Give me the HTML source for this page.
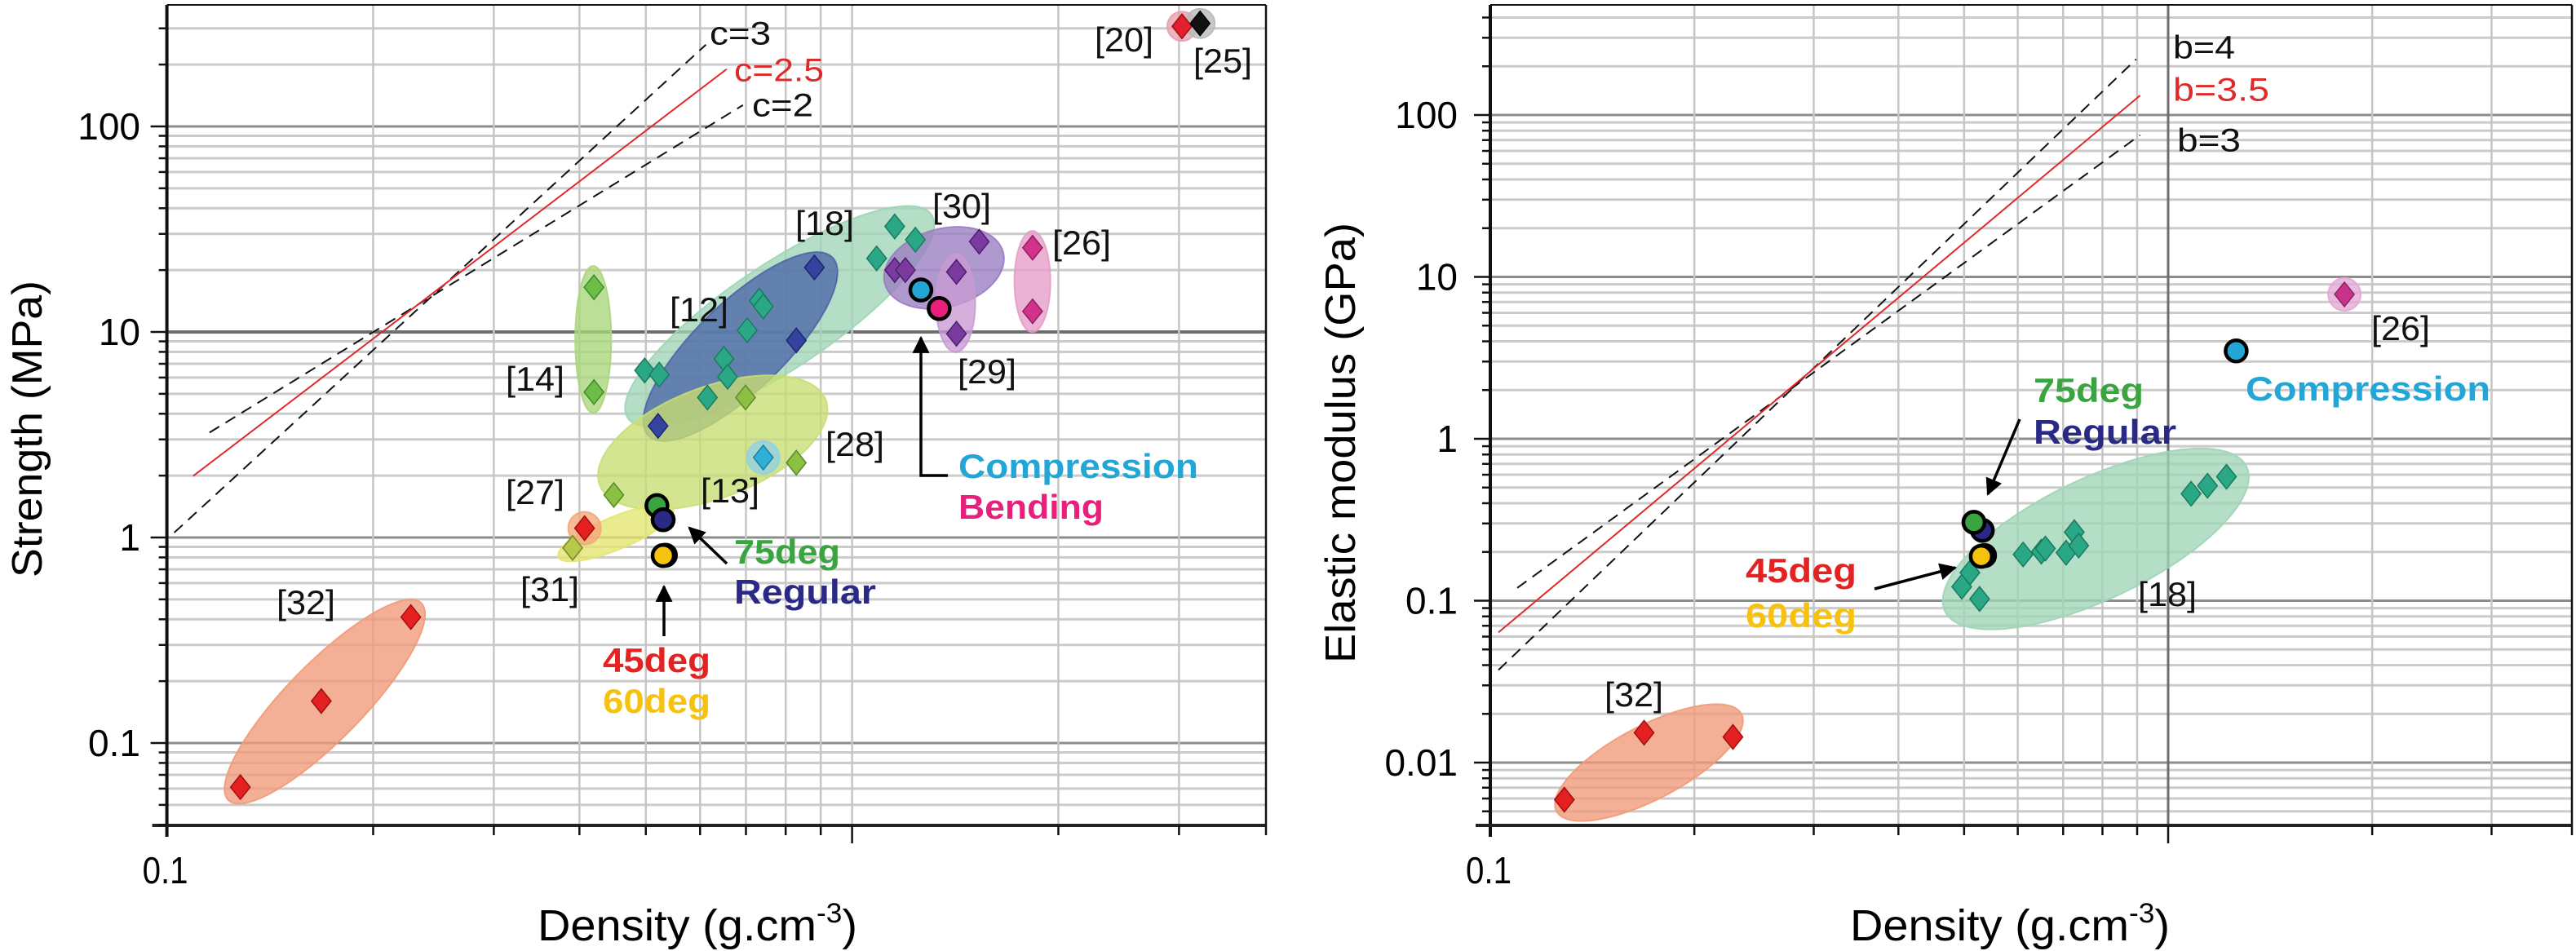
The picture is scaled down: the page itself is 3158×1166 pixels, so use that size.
<!DOCTYPE html>
<html><head><meta charset="utf-8"><style>
html,body{margin:0;padding:0;background:#fff;}
svg{display:block;font-family:"Liberation Sans",sans-serif;}
</style></head><body>
<svg id="chart" width="3158" height="1166" viewBox="0 0 3158 1166" xmlns="http://www.w3.org/2000/svg">
<defs><marker id="ah" viewBox="0 0 10 10" refX="9" refY="5" markerWidth="6" markerHeight="6" orient="auto"><path d="M0,0 L10,5 L0,10 Z" fill="#000"/></marker></defs>
</svg>
<script>
// ---- Left panel data (Strength vs density)
const l32X=[0.128,0.168,0.227], l32Y=[0.061,0.16,0.41];
const l14X=[0.42,0.42], l14Y=[16.5,5.1];
const l12X=[0.881,0.829,0.521], l12Y=[20.6,9.1,3.49];
const l18X=[0.498,0.523,0.615,0.650,0.658,0.703,0.732,0.742,1.086,1.154,1.237];
const l18Y=[6.5,6.2,4.8,7.4,6.05,10.2,14.2,13.3,22.8,32.6,28.1];
const l13X=[0.699,0.449,0.829], l13Y=[4.8,1.61,2.31];
const l28X=[0.742], l28Y=[2.45];
const l27X=[0.407], l27Y=[1.11];
const l31X=[0.391], l31Y=[0.89];
const l30X=[1.154,1.196,1.42,1.533], l30Y=[20.0,20.0,19.6,27.5];
const l29X=[1.42], l29Y=[9.8];
const l26X=[1.834,1.834], l26Y=[25.7,12.6];
const l20X=[3.03], l20Y=[307];
const l25X=[3.22], l25Y=[317];
const lWorkNames=['45deg','75deg','Regular','60deg','Compression','Bending'];
const lWorkX=[0.534,0.519,0.530,0.530,1.26,1.34];
const lWorkY=[0.82,1.43,1.22,0.817,16.0,13.0];
const c3X=[0.1025,0.612], c3Y=[1.056,250];
const c25X=[0.1092,0.656], c25Y=[1.99,190];
const c2X=[0.1154,0.693], c2Y=[3.24,127];
// ---- Right panel data (Elastic modulus vs density)
const r32X=[0.1286,0.1686,0.228], r32Y=[0.0059,0.0153,0.0144];
const r18X=[0.496,0.510,0.527,0.611,0.650,0.659,0.707,0.727,0.738,1.081,1.143,1.219];
const r18Y=[0.122,0.149,0.1025,0.193,0.201,0.210,0.198,0.265,0.219,0.458,0.513,0.583];
const r26X=[1.82], r26Y=[7.8];
const rWorkNames=['45deg','Regular','75deg','60deg','Compression'];
const rWorkX=[0.536,0.532,0.517,0.530,1.26];
const rWorkY=[0.19,0.272,0.305,0.188,3.49];
const b4X=[0.1028,0.897], b4Y=[0.0373,221];
const b35X=[0.1028,0.909], b35Y=[0.0637,132];
const b3X=[0.1096,0.909], b3Y=[0.12,75.2];
const xTickVals=[0.2,0.3,0.4,0.5,0.6,0.7,0.8,0.9,1,2,3];

const NS='http://www.w3.org/2000/svg';
const svg=document.getElementById('chart');
function mk(tag,attrs,name,parent){
  const e=document.createElementNS(NS,tag);
  for(const k in attrs) e.setAttribute(k,attrs[k]);
  
  
  (parent||svg).appendChild(e);
  return e;
}
const L={x0:204.6,x1:1552,y0:6,y1:1012,xk:840,ya:659,yk:252};
const R={x0:1827,x1:3153,y0:6,y1:1012,xk:831,ya:538,yk:198.5};
function X(P,v){return P.x0+P.xk*Math.log10(v/0.1);}
function Y(P,v){return P.ya-P.yk*Math.log10(v);}

function grid(P,isLeft){
  const g=mk('g',{},'grid');
  for(let d=-3;d<=2;d++){for(let m=1;m<=9;m++){
    const v=m*Math.pow(10,d), y=Y(P,v);
    if(y<P.y0+2||y>P.y1-2) continue;
    let col='#cbcbcb',w=3;
    if(m===1){col='#8c8c8c';w=3; if(isLeft&&d===1){col='#6e6e6e';w=4;}}
    mk('line',{x1:P.x0,x2:P.x1,y1:y,y2:y,stroke:col,'stroke-width':w},'h-gridline',g);
  }}
  xTickVals.forEach(v=>{
    const x=X(P,v);
    const major=(v===1&&!isLeft);
    mk('line',{x1:x,x2:x,y1:P.y0,y2:P.y1,stroke:major?'#6e6e6e':'#c6c6c6','stroke-width':major?3:2.5},'v-gridline',g);
  });
}
function axes(P,ticksY,labelRight){
  const g=mk('g',{},'axes');
  mk('line',{x1:P.x0,x2:P.x1,y1:P.y0,y2:P.y0,stroke:'#111','stroke-width':2},'frame-top',g);
  mk('line',{x1:P.x1,x2:P.x1,y1:P.y0,y2:P.y1,stroke:'#111','stroke-width':2.5},'frame-right',g);
  mk('line',{x1:P.x0,x2:P.x0,y1:P.y0,y2:P.y1+14,stroke:'#111','stroke-width':4},'y-axis',g);
  mk('line',{x1:P.x0-18,x2:P.x1,y1:P.y1,y2:P.y1,stroke:'#222','stroke-width':4},'x-axis',g);
  for(let d=-3;d<=2;d++){for(let m=1;m<=9;m++){
    const v=m*Math.pow(10,d), y=Y(P,v);
    if(y<P.y0||y>P.y1) continue;
    mk('line',{x1:P.x0-(m===1?20:10),x2:P.x0,y1:y,y2:y,stroke:'#111','stroke-width':2.5},'y-tick',g);
  }}
  xTickVals.forEach(v=>{const x=X(P,v);
    mk('line',{x1:x,x2:x,y1:P.y1,y2:P.y1+(v===1?22:12),stroke:'#111','stroke-width':2.5},'x-tick',g);});
  mk('line',{x1:P.x1,x2:P.x1,y1:P.y1,y2:P.y1+12,stroke:'#111','stroke-width':2.5},'x-tick',g);
  ticksY.forEach(v=>{
    const t=mk('text',{x:labelRight,y:Y(P,v)+16,'font-size':46,'text-anchor':'end',fill:'#000'},'y-tick-label',g);
    t.textContent=String(v);
  });
  const t=mk('text',{x:P.x0-2,y:1083,'font-size':46,'text-anchor':'middle',fill:'#000',textLength:56,lengthAdjust:'spacingAndGlyphs'},'x-tick-label',g);
  t.textContent='0.1';
}
function ellipse(P,cx,cy,rx,ry,rot,fill,name){
  const x=X(P,cx),y=Y(P,cy);
  mk('ellipse',{cx:x,cy:y,rx:rx,ry:ry,transform:`rotate(${rot} ${x} ${y})`,fill:fill,'fill-opacity':0.78,stroke:fill,'stroke-width':2,'stroke-opacity':0.9},name);
}
function diamonds(P,xs,ys,fill,stroke,name){
  xs.forEach((v,i)=>{const x=X(P,v),y=Y(P,ys[i]);
    mk('path',{d:`M${x},${y-15} L${x+12},${y} L${x},${y+15} L${x-12},${y} Z`,fill:fill,stroke:stroke,'stroke-width':1.5},name);});
}
function workPts(P,names,xs,ys,colors){
  names.forEach((n,i)=>{
    mk('circle',{cx:X(P,xs[i]),cy:Y(P,ys[i]),r:13,fill:colors[n],stroke:'#000','stroke-width':4.5},'point-'+n.toLowerCase());
  });
}
function line(P,xs,ys,color,dash,name){
  const a={x1:X(P,xs[0]),y1:Y(P,ys[0]),x2:X(P,xs[1]),y2:Y(P,ys[1]),stroke:color,'stroke-width':2};
  if(dash) a['stroke-dasharray']='14 9';
  mk('line',a,name);
}
function label(txt,x,y,size,color,weight,width,anchor,name){
  const t=mk('text',{x:x,y:y+size*0.36,'font-size':size,fill:color,'font-weight':weight,'text-anchor':anchor,textLength:width,lengthAdjust:'spacingAndGlyphs'},name);
  t.textContent=txt;
}
function arrow(pts,name){
  mk('polyline',{points:pts.map(p=>p.join(',')).join(' '),fill:'none',stroke:'#000','stroke-width':3.5,'marker-end':'url(#ah)'},name);
}
const WC={'45deg':'#e52222','75deg':'#3aa540','Regular':'#2a2a86','60deg':'#f7c20e','Compression':'#22a6d6','Bending':'#e8207c'};

// ===== LEFT PANEL
grid(L,true);
ellipse(L,0.170,0.159,169,47,-45.6,'#f19a78','ellipse-ref32');
ellipse(L,0.784,11.9,224,64,-33.8,'#9fd5b6','ellipse-ref18');
ellipse(L,0.687,8.49,157,54,-44,'#4b66a6','ellipse-ref12');
ellipse(L,0.626,2.9,148,68,-20.6,'#c8de72','ellipse-ref13');
ellipse(L,0.419,9.2,22,90,0,'#a9d67a','ellipse-ref14');
ellipse(L,0.452,1.05,76,20,-22.7,'#e4e46e','ellipse-ref31');
ellipse(L,0.407,1.11,20,20,0,'#f3a77a','circle-ref27');
ellipse(L,1.362,20.5,75,48,-15,'#9a7cc2','ellipse-ref30');
ellipse(L,1.416,13.8,24,60,0,'#c99ad4','ellipse-ref29');
ellipse(L,1.833,17.6,22,62,0,'#e59cc8','ellipse-ref26');
ellipse(L,3.03,307,18,18,0,'#e8a0b0','circle-ref20');
ellipse(L,3.22,317,18,18,0,'#b8b8b8','circle-ref25');
ellipse(L,0.742,2.45,20,20,0,'#8fd0e6','circle-ref28-cyan');
line(L,c3X,c3Y,'#111',true,'line-c3');
line(L,c2X,c2Y,'#111',true,'line-c2');
line(L,c25X,c25Y,'#e02a2a',false,'line-c2-5');
diamonds(L,l32X,l32Y,'#e42020','#a01010','point-ref32');
diamonds(L,l14X,l14Y,'#6cbd45','#3f8a2a','point-ref14');
diamonds(L,l18X,l18Y,'#2aa886','#1a7a5e','point-ref18');
diamonds(L,l12X,l12Y,'#33439e','#1c2670','point-ref12');
diamonds(L,l13X,l13Y,'#8cc043','#5a8a2a','point-ref13');
diamonds(L,l28X,l28Y,'#2fb0d6','#1a7ea0','point-ref28');
diamonds(L,l27X,l27Y,'#e42020','#a01010','point-ref27');
diamonds(L,l31X,l31Y,'#b8c84a','#7a8a2a','point-ref31');
diamonds(L,l30X,l30Y,'#7a3a9e','#4e1f70','point-ref30');
diamonds(L,l29X,l29Y,'#7a3a9e','#4e1f70','point-ref29');
diamonds(L,l26X,l26Y,'#d2328c','#90205e','point-ref26');
diamonds(L,l20X,l20Y,'#e42030','#a01010','point-ref20');
diamonds(L,l25X,l25Y,'#111','#000','point-ref25');
workPts(L,lWorkNames,lWorkX,lWorkY,WC);
arrow([[1162,583],[1129,583],[1129,414]],'arrow-compression');
arrow([[891,691],[845,647]],'arrow-75deg');
arrow([[814,780],[814,719]],'arrow-45deg');
axes(L,[100,10,1,0.1],172);
[['[20]',1378,48],['[25]',1499,74],['[18]',1011,273],['[30]',1179,252],['[26]',1326,297],['[12]',857,379],['[29]',1210,455],['[14]',656,464],['[28]',1048,544],['[27]',656,603],['[13]',895,601],['[31]',674,722],['[32]',375,738]].forEach(a=>label(a[0],a[1],a[2],42,'#111','normal',72,'middle','ref-label'));
label('c=3',870,40,40,'#111','normal',75,'start','label-c3');
label('c=2.5',900,85,40,'#e02a2a','normal',110,'start','label-c2-5');
label('c=2',922,128,40,'#111','normal',75,'start','label-c2');
label('Compression',1175,571,42,WC['Compression'],'bold',294,'start','label-compression');
label('Bending',1175,621,42,WC['Bending'],'bold',178,'start','label-bending');
label('75deg',900,676,42,WC['75deg'],'bold',130,'start','label-75deg');
label('Regular',900,725,42,WC['Regular'],'bold',174,'start','label-regular');
label('45deg',805,809,42,WC['45deg'],'bold',132,'middle','label-45deg');
label('60deg',805,859,42,WC['60deg'],'bold',132,'middle','label-60deg');

// ===== RIGHT PANEL
grid(R,false);
ellipse(R,0.1714,0.01,128,45,-27.7,'#f19a78','ellipse-ref32');
ellipse(R,0.782,0.2406,205,74,-25.6,'#9fd5b6','ellipse-ref18');
ellipse(R,1.82,7.8,20,20,0,'#e3a8d6','circle-ref26');
line(R,b4X,b4Y,'#111',true,'line-b4');
line(R,b3X,b3Y,'#111',true,'line-b3');
line(R,b35X,b35Y,'#e02a2a',false,'line-b3-5');
diamonds(R,r32X,r32Y,'#e42020','#a01010','point-ref32');
diamonds(R,r18X,r18Y,'#2aa886','#1a7a5e','point-ref18');
diamonds(R,r26X,r26Y,'#c8328c','#90205e','point-ref26');
workPts(R,rWorkNames,rWorkX,rWorkY,WC);
arrow([[2476,514],[2437,606]],'arrow-75deg');
arrow([[2298,722],[2397,696]],'arrow-45deg');
axes(R,[100,10,1,0.1,0.01],1787);
label('[26]',2943,402,42,'#111','normal',72,'middle','ref-label');
label('[18]',2657,728,42,'#111','normal',72,'middle','ref-label');
label('[32]',2003,851,42,'#111','normal',72,'middle','ref-label');
label('b=4',2664,57,40,'#111','normal',76,'start','label-b4');
label('b=3.5',2664,109,40,'#e02a2a','normal',118,'start','label-b3-5');
label('b=3',2669,171,40,'#111','normal',78,'start','label-b3');
label('Compression',2753,476,42,WC['Compression'],'bold',300,'start','label-compression');
label('75deg',2493,478,42,WC['75deg'],'bold',135,'start','label-75deg');
label('Regular',2493,529,42,WC['Regular'],'bold',175,'start','label-regular');
label('45deg',2140,699,42,WC['45deg'],'bold',136,'start','label-45deg');
label('60deg',2140,754,42,WC['60deg'],'bold',136,'start','label-60deg');

// ===== Axis titles
function xTitle(cx,name){
  const t=mk('text',{x:cx,y:1153,'font-size':54,'text-anchor':'middle',fill:'#000',textLength:392,lengthAdjust:'spacingAndGlyphs'},name);
  t.innerHTML='Density (g.cm<tspan dy="-22" font-size="34">-3</tspan><tspan dy="22">)</tspan>';
}
xTitle(855,'x-axis-title');
xTitle(2464,'x-axis-title');
function yTitle(cx,cy,txt,len,name){
  const t=mk('text',{x:0,y:0,'font-size':52,'text-anchor':'middle',fill:'#000',transform:`translate(${cx+18},${cy}) rotate(-90)`,textLength:len,lengthAdjust:'spacingAndGlyphs'},name);
  t.textContent=txt;
}
yTitle(33,526,'Strength (MPa)',364,'y-axis-title');
yTitle(1643,543,'Elastic modulus (GPa)',540,'y-axis-title');
</script>
</body></html>
